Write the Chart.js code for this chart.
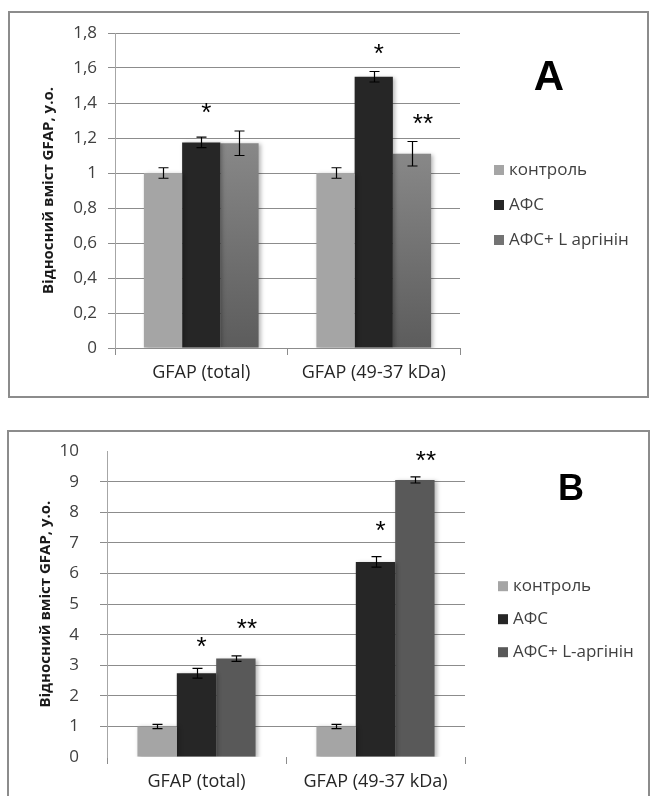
<!DOCTYPE html>
<html>
<head>
<meta charset="utf-8">
<script src="https://cdn.jsdelivr.net/npm/chart.js@4.4.1/dist/chart.umd.min.js"></script>
<style>
body{margin:0;background:#fff;width:650px;height:796px;overflow:hidden;position:relative}
.box{position:absolute;border:2px solid #8c8c8c;box-sizing:border-box}
#boxA{left:8px;top:11px;width:641px;height:387px}
#boxB{left:7px;top:430px;width:643px;height:400px}
canvas{position:absolute;left:0}
#cA{top:0}
#cB{top:420px}
</style>
</head>
<body>
<div class="box" id="boxA"></div>
<div class="box" id="boxB"></div>
<canvas id="cA" width="650" height="400"></canvas>
<canvas id="cB" width="650" height="376"></canvas>
<script>
// categories + series
var categories = ['GFAP (total)', 'GFAP (49-37 kDa)'];
var seriesA = ['контроль', 'АФС', 'АФС+ L аргінін'];
var seriesB = ['контроль', 'АФС', 'АФС+ L-аргінін'];
var yTitle = 'Відносний вміст GFAP, у.о.';

// panel A
var controlA = [1.0, 1.0];
var afsA = [1.175, 1.55];
var afsArgA = [1.17, 1.11];
var controlErrA = [0.03, 0.03];
var afsErrA = [0.03, 0.03];
var afsArgErrA = [0.07, 0.07];
var starsA = [['', ''], ['*', '*'], ['', '**']];
var starLevelA = [[0, 0], [1.37, 1.71], [0, 1.31]];

// panel B
var controlB = [1.0, 1.0];
var afsB = [2.74, 6.38];
var afsArgB = [3.22, 9.06];
var controlErrB = [0.07, 0.07];
var afsErrB = [0.16, 0.17];
var afsArgErrB = [0.09, 0.1];
var starsB = [['', ''], ['*', '*'], ['**', '**']];
var starLevelB = [[0, 0], [3.77, 7.57], [4.36, 9.85]];

var FONT = '"Open Sans", "Noto Sans", sans-serif';
var grey = '#a5a5a5', dark = '#262626', mid = '#595959';

function fmt(v){
	return String(Math.round(v * 10) / 10).replace('.', ',');
}

// gradient fill per bar for the third series of panel A
function shadeBar(c){
	var chart = c.chart, y = chart.scales.y;
	if (!y || c.raw == null) return '#727272';
	var top = y.getPixelForValue(c.raw), bottom = y.getPixelForValue(0);
	if (!isFinite(top) || !isFinite(bottom) || top === bottom) return '#727272';
	var g = chart.ctx.createLinearGradient(0, top, 0, bottom);
	g.addColorStop(0, '#888888');
	g.addColorStop(1, '#5c5c5c');
	return g;
}

var extras = {
	id: 'extras',
	beforeDatasetsDraw: function(chart){
		var ctx = chart.ctx;
		ctx.save();
		ctx.shadowColor = 'rgba(0,0,0,0.28)';
		ctx.shadowBlur = 4;
		ctx.shadowOffsetX = 2;
		ctx.shadowOffsetY = 1;
	},
	afterDatasetsDraw: function(chart, args, opts){
		var ctx = chart.ctx, y = chart.scales.y;
		ctx.restore();
		// error bars
		ctx.save();
		ctx.strokeStyle = '#000';
		ctx.lineWidth = 1.2;
		chart.data.datasets.forEach(function(ds, i){
			var meta = chart.getDatasetMeta(i);
			meta.data.forEach(function(bar, j){
				var v = ds.data[j], e = ds.errors[j];
				var x = Math.round(bar.x) + 0.5;
				var yt = y.getPixelForValue(v + e), yb = y.getPixelForValue(v - e);
				ctx.beginPath();
				ctx.moveTo(x, yt); ctx.lineTo(x, yb);
				ctx.moveTo(x - 5, yt); ctx.lineTo(x + 5, yt);
				ctx.moveTo(x - 5, yb); ctx.lineTo(x + 5, yb);
				ctx.stroke();
			});
		});
		ctx.restore();
		// significance marks
		ctx.save();
		ctx.fillStyle = '#000';
		ctx.font = '26px "Liberation Sans", sans-serif';
		ctx.textAlign = 'center';
		ctx.textBaseline = 'alphabetic';
		chart.data.datasets.forEach(function(ds, i){
			var meta = chart.getDatasetMeta(i);
			meta.data.forEach(function(bar, j){
				var s = ds.stars[j];
				if (!s) return;
				var m = ctx.measureText(s);
				var cy = y.getPixelForValue(ds.starLevel[j]);
				var base = cy - (m.actualBoundingBoxDescent - m.actualBoundingBoxAscent) / 2;
				ctx.fillText(s, bar.x + (s.length > 1 ? 11 : 5), base);
			});
		});
		ctx.restore();
		// legend
		var area = chart.chartArea;
		ctx.save();
		ctx.font = '17px ' + FONT;
		ctx.textBaseline = 'middle';
		ctx.textAlign = 'left';
		chart.data.datasets.forEach(function(ds, i){
			var lx = area.right + opts.dx, ly = area.top + opts.dy + i * opts.gap;
			ctx.fillStyle = ds.legendColor;
			ctx.fillRect(lx, ly - 5, 10, 10);
			ctx.fillStyle = '#404040';
			ctx.fillText(ds.label, lx + 15, ly);
		});
		// panel letter
		ctx.fillStyle = '#000';
		ctx.font = 'bold ' + opts.tagSize + 'px "Liberation Sans", Arial, sans-serif';
		ctx.textAlign = 'center';
		ctx.textBaseline = 'alphabetic';
		ctx.fillText(opts.tag, opts.tagX, opts.tagY);
		ctx.restore();
	}
};

function makeChart(id, cfg){
	var ds = [
		{label: cfg.names[0], data: cfg.values[0], errors: cfg.errs[0], stars: cfg.stars[0], starLevel: cfg.levels[0], backgroundColor: grey, legendColor: grey},
		{label: cfg.names[1], data: cfg.values[1], errors: cfg.errs[1], stars: cfg.stars[1], starLevel: cfg.levels[1], backgroundColor: dark, legendColor: dark},
		{label: cfg.names[2], data: cfg.values[2], errors: cfg.errs[2], stars: cfg.stars[2], starLevel: cfg.levels[2], backgroundColor: cfg.thirdFill, legendColor: cfg.thirdLegend}
	];
	return new Chart(document.getElementById(id), {
		type: 'bar',
		data: {labels: categories, datasets: ds},
		plugins: [extras],
		options: {
			responsive: false,
			animation: false,
			devicePixelRatio: 1,
			layout: {padding: {top: cfg.padTop, right: cfg.padRight, left: 0, bottom: 0}},
			datasets: {bar: {categoryPercentage: cfg.catPct, barPercentage: 1, borderWidth: 0}},
			plugins: {
				legend: {display: false},
				tooltip: {enabled: false},
				extras: cfg.extras
			},
			scales: {
				x: {
					grid: {drawOnChartArea: false, offset: true, tickLength: 7, color: '#8c8c8c'},
					border: {display: cfg.xBorder, color: '#8c8c8c'},
					ticks: {padding: cfg.xPad, color: '#262626', font: {family: FONT, size: 18}},
					afterFit: function(s){ s.height = cfg.xHeight; }
				},
				y: {
					min: 0, max: cfg.max,
					ticks: {stepSize: cfg.step, padding: cfg.yPad, color: '#404040', font: {family: FONT, size: 17}, callback: fmt},
					grid: {
						tickLength: 7,
						color: function(c){
							if (c.tick && cfg.hideGrid.indexOf(Math.round(c.tick.value * 10) / 10) >= 0) return 'rgba(0,0,0,0)';
							return '#8c8c8c';
						}
					},
					border: {color: '#a6a6a6'},
					title: {display: true, text: yTitle, color: '#1a1a1a', font: {family: FONT, size: 15, weight: 'bold'}, padding: {top: cfg.titlePad, bottom: 0}},
					afterFit: function(s){ s.width = cfg.yWidth; }
				}
			}
		}
	});
}

makeChart('cA', {
	names: seriesA,
	values: [controlA, afsA, afsArgA],
	errs: [controlErrA, afsErrA, afsArgErrA],
	stars: starsA,
	levels: starLevelA,
	thirdFill: shadeBar,
	thirdLegend: '#737373',
	padTop: 33, padRight: 190,
	catPct: 0.665,
	xBorder: true, xPad: 7, xHeight: 52,
	max: 1.8, step: 0.2, yPad: 11, hideGrid: [],
	titlePad: 40, yWidth: 115,
	extras: {dx: 34, dy: 137, gap: 35, tag: 'A', tagSize: 42, tagX: 549, tagY: 90}
});

makeChart('cB', {
	names: seriesB,
	values: [controlB, afsB, afsArgB],
	errs: [controlErrB, afsErrB, afsArgErrB],
	stars: starsB,
	levels: starLevelB,
	thirdFill: mid,
	thirdLegend: mid,
	padTop: 30, padRight: 185,
	catPct: 0.66,
	xBorder: false, xPad: 7, xHeight: 39,
	max: 10, step: 1, yPad: 21, hideGrid: [0, 10],
	titlePad: 37, yWidth: 107,
	extras: {dx: 33, dy: 135, gap: 33, tag: 'B', tagSize: 36, tagX: 571, tagY: 80}
});
</script>
</body>
</html>
